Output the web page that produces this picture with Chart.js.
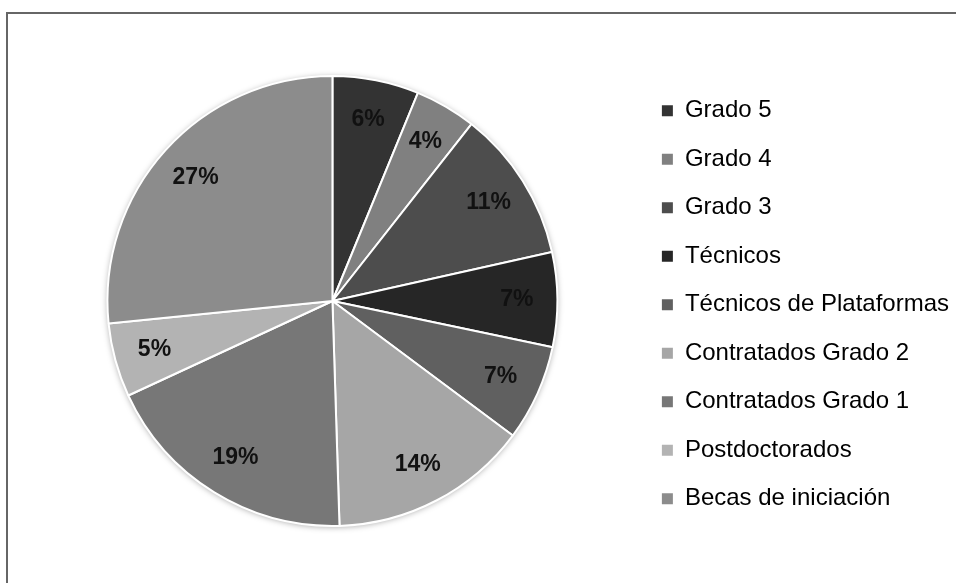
<!DOCTYPE html>
<html>
<head>
<meta charset="utf-8">
<script src="https://cdn.jsdelivr.net/npm/chart.js@4/dist/chart.umd.min.js"></script>
<style>
  body { margin: 0; background: #fff; }
  #wrap { width: 956px; height: 583px; position: relative; }
</style>
</head>
<body>
<div id="wrap"><canvas id="myChart" width="956" height="583"></canvas></div>
<script>
const categories = ['Grado 5', 'Grado 4', 'Grado 3', 'Técnicos', 'Técnicos de Plataformas',
    'Contratados Grado 2', 'Contratados Grado 1', 'Postdoctorados', 'Becas de iniciación'];
// percent shares
const shares = [6.2, 4.4, 10.9, 6.8, 6.9, 14.3, 18.6, 5.3, 26.6];
const sliceColors = ['#333333', '#808080', '#4d4d4d', '#262626', '#606060',
    '#a6a6a6', '#777777', '#b3b3b3', '#8c8c8c'];

// frame line on top and left edge
const framePlugin = {
    id: 'frame',
    beforeDraw(chart) {
        const c = chart.ctx;
        c.save();
        c.fillStyle = '#fff';
        c.fillRect(0, 0, chart.width, chart.height);
        c.strokeStyle = '#666';
        c.lineWidth = 2;
        c.strokeRect(7, 13, 1200, 1200);
        c.restore();
    }
};

// soft shadow around the pie
const shadowPlugin = {
    id: 'pieShadow',
    beforeDatasetsDraw(chart) {
        const arc = chart.getDatasetMeta(0).data[0];
        if (!arc) return;
        const c = chart.ctx;
        c.save();
        c.shadowColor = 'rgba(0,0,0,0.35)';
        c.shadowBlur = 6;
        c.shadowOffsetY = 1;
        c.fillStyle = '#fff';
        c.beginPath();
        c.arc(arc.x, arc.y, arc.outerRadius, 0, Math.PI * 2);
        c.fill();
        c.restore();
    }
};

const pctLabels = {
    id: 'pctLabels',
    afterDatasetsDraw(chart) {
        const c = chart.ctx;
        const meta = chart.getDatasetMeta(0);
        c.save();
        c.font = 'bold 23px "Liberation Sans", Arial, sans-serif';
        c.fillStyle = '#111';
        c.textAlign = 'center';
        c.textBaseline = 'middle';
        meta.data.forEach((a, i) => {
            const mid = (a.startAngle + a.endAngle) / 2;
            const r = a.outerRadius * 0.82;
            c.fillText(Math.round(shares[i]) + '%', a.x + Math.cos(mid) * r, a.y + Math.sin(mid) * r);
        });
        c.restore();
    }
};

const ctx = document.getElementById('myChart').getContext('2d');
const myChart = new Chart(ctx, {
    type: 'pie',
    data: {
        labels: categories,
        datasets: [{
            data: shares,
            backgroundColor: sliceColors,
            borderColor: '#ffffff',
            borderWidth: 2,
            radius: 225
        }]
    },
    options: {
        responsive: false,
        animation: false,
        layout: {
            padding: { top: 19, bottom: 0, left: 27.5, right: -3 }
        },
        plugins: {
            tooltip: { enabled: false },
            legend: {
                position: 'right',
                // empty title only nudges the items down a little
                title: { display: true, text: '', font: { size: 1 }, padding: { top: 3, bottom: 3.5 } },
                labels: {
                    boxWidth: 11,
                    boxHeight: 11,
                    padding: 24.5,
                    color: '#000',
                    font: { size: 24, family: '"Liberation Sans", Arial, sans-serif' },
                    generateLabels(chart) {
                        const items = Chart.overrides.pie.plugins.legend.labels.generateLabels(chart);
                        items.forEach(it => { it.lineWidth = 0; it.strokeStyle = it.fillStyle; });
                        return items;
                    }
                }
            }
        }
    },
    plugins: [framePlugin, shadowPlugin, pctLabels]
});
</script>
</body>
</html>
